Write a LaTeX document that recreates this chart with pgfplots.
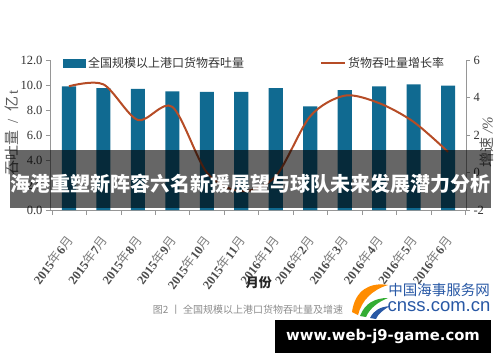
\documentclass[border=0pt]{standalone}
\usepackage{fontspec}
\setmainfont{Liberation Serif}
\newfontfamily\cjk{Noto Sans CJK SC}
\newfontfamily\dejab{DejaVu Sans}
\newfontfamily\lsans{Liberation Sans}
\usepackage{pgfplots}
\pgfplotsset{compat=1.18}
\definecolor{barblue}{RGB}{16,106,145}
\definecolor{linered}{RGB}{182,76,38}
\definecolor{axgray}{RGB}{150,150,150}
\definecolor{logoblue}{RGB}{40,88,165}
\newcommand{\ym}[2]{{\bfseries #1}{\cjk\color{black!50}年}{\bfseries #2}{\cjk\color{black!50}月}}
\begin{document}
\begin{tikzpicture}[x=1pt,y=1pt]
\path[use as bounding box] (0,0) rectangle (500,362);
\begin{axis}[
  at={(50pt,152pt)}, anchor=south west, scale only axis,
  width=416pt, height=150pt,
  xmin=-0.55, xmax=11.52, ymin=0, ymax=12,
  axis x line*=bottom, axis y line*=left,
  axis line style={draw=axgray, line width=0.6pt},
  xtick={0,...,11},
  xticklabels={\ym{2015}{6},\ym{2015}{7},\ym{2015}{8},\ym{2015}{9},\ym{2015}{10},\ym{2015}{11},\ym{2016}{1},\ym{2016}{2},\ym{2016}{3},\ym{2016}{4},\ym{2016}{5},\ym{2016}{6}},
  major x tick style={draw=none},
  minor xtick={-0.5,0.5,...,11.5},
  minor x tick style={draw=axgray},
  minor tick length=5pt,
  major tick length=4pt,
  tick align=outside,
  ytick={0,2,...,12},
  y tick style={draw=axgray},
  /pgf/number format/assume math mode=true,
  yticklabel style={/pgf/number format/.cd, fixed, fixed zerofill, precision=1, /tikz/.cd, font=\fontsize{12.5}{13}\selectfont, text=black!80},
  xticklabel style={font=\fontsize{12.5}{13}\selectfont, text=black!70, xshift=3pt, yshift=-21pt, rotate=53, anchor=east},
  ylabel={{\cjk 吞吐量}\ \ /\ \ {\cjk 亿}\,t},
  ylabel style={at={(axis description cs:-0.091,0.513)}, anchor=center, font=\fontsize{15}{15}\selectfont, text=black!65},
  xlabel={\cjk\bfseries 月份},
  xlabel style={at={(axis description cs:0.502,-0.487)}, anchor=center, font=\fontsize{13}{13}\selectfont, text=black!85},
  legend style={at={(axis description cs:0.031,0.98)}, anchor=west, draw=none, fill=none, inner sep=0pt, font=\fontsize{12}{12}\selectfont\cjk, text=black!80},
  ybar, bar width=0.41,
]
\addplot[fill=barblue, draw=none, legend image code/.code={\fill[barblue] (0pt,-4.5pt) rectangle (23pt,4.5pt);}] coordinates {
(0,9.9) (1,9.75) (2,9.7) (3,9.5) (4,9.45) (5,9.45) (6,9.75) (7,8.3) (8,9.6) (9,9.9) (10,10.05) (11,9.95)};
\addlegendentry{全国规模以上港口货物吞吐量}
\end{axis}
\begin{axis}[
  at={(50pt,152pt)}, anchor=south west, scale only axis,
  width=416pt, height=150pt,
  xmin=-0.55, xmax=11.52, ymin=-2, ymax=6,
  axis x line=none, axis y line*=right,
  axis line style={draw=axgray, line width=0.6pt},
  ytick={-2,0,...,6},
  y tick style={draw=axgray},
  major tick length=4pt, tick align=outside,
  /pgf/number format/assume math mode=true,
  yticklabel style={font=\fontsize{12.5}{13}\selectfont, text=black!80},
  ylabel={{\cjk 增速}\ \textit{/\%}},
  ylabel style={at={(axis description cs:1.05,0.45)}, anchor=center, rotate=0, font=\fontsize{15}{15}\selectfont, text=black!65},
  legend style={at={(axis description cs:0.649,0.98)}, anchor=west, draw=none, fill=none, inner sep=0pt, font=\fontsize{12}{12}\selectfont\cjk, text=black!80},
]
\addplot[smooth, linered, line width=2pt, legend image code/.code={\draw[linered, line width=2pt] (0pt,0pt) -- (24pt,0pt);}] coordinates {
(0,4.6) (1,4.7) (2,2.8) (3,3.5) (4,0.0) (5,-1.0) (6,-0.2) (7,3.0) (8,4.1) (9,3.7) (10,2.7) (11,1.1)};
\addlegendentry{货物吞吐量增长率}
\end{axis}
% overlay banner
\fill[black, opacity=0.6] (10,154) rectangle (491,212);
\node[text=white, font=\fontsize{20}{20}\selectfont\cjk\bfseries] at (250,178) {海港重塑新阵容六名新援展望与球队未来发展潜力分析};
% caption
\node[text=black!45, font=\fontsize{10}{10}\selectfont\cjk] at (248,52) {图2\ 丨\ 全国规模以上港口货物吞吐量及增速};
% logo
\fill[orange!90!yellow] (352,50) .. controls (355,72) and (370,80) .. (388,77) .. controls (372,72) and (362,62) .. (358,47) -- cycle;
\fill[green!60!black!80] (360,46) .. controls (365,59) and (375,64) .. (388,64) .. controls (378,60) and (370,54) .. (366,45) -- cycle;
\fill[logoblue] (370,44) .. controls (374,52) and (380,55) .. (390,56) .. controls (383,52) and (378,48) .. (376,43) -- cycle;
\node[text=logoblue, font=\fontsize{14.5}{15}\selectfont\cjk] at (439,72) {中国海事服务网};
\node[text=logoblue, font=\fontsize{18.5}{19}\selectfont\lsans] at (439,55) {cnss.com.cn};
% black box
\fill[black] (275,9) rectangle (491,42);
\node[text=white, font=\fontsize{14.8}{15}\selectfont\dejab\bfseries] at (383,26) {www.web-j9-game.com};
\end{tikzpicture}
\end{document}
